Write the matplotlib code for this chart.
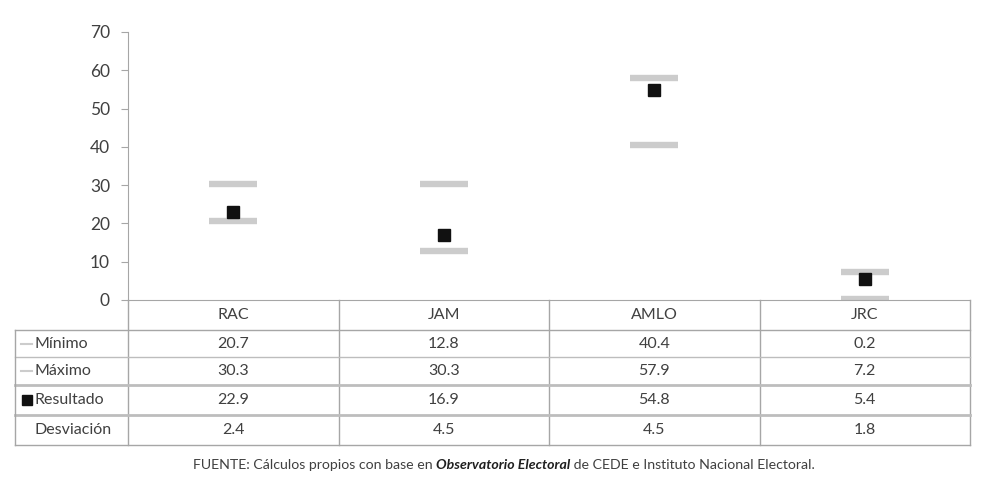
import matplotlib.pyplot as plt
from matplotlib.lines import Line2D
import numpy as np

plt.rcParams['font.family'] = ['Lato', 'DejaVu Sans']

candidatos = ['RAC', 'JAM', 'AMLO', 'JRC']
minimo = [20.7, 12.8, 40.4, 0.2]
maximo = [30.3, 30.3, 57.9, 7.2]
resultado = [22.9, 16.9, 54.8, 5.4]
desviacion = [2.4, 4.5, 4.5, 1.8]
filas = ['Mínimo', 'Máximo', 'Resultado', 'Desviación']

W, H = 983, 482
fig = plt.figure(figsize=(W / 100, H / 100), dpi=100)
fig.patch.set_facecolor('white')

# axes placement in pixels
ax_l, ax_r, ax_t, ax_b = 128, 970, 32, 300
ax = fig.add_axes([ax_l / W, 1 - ax_b / H, (ax_r - ax_l) / W, (ax_b - ax_t) / H])

x = np.arange(len(candidatos))
gris = '#cccccc'
ax.plot(x, minimo, ls='none', marker='_', ms=35, mew=4.6, c=gris)
ax.plot(x, maximo, ls='none', marker='_', ms=35, mew=4.6, c=gris)
ax.plot(x, resultado, ls='none', marker='s', ms=8, c='#111111')

ax.set_xlim(-0.5, len(candidatos) - 0.5)
ax.set_ylim(0, 70)
ax.set_yticks(range(0, 71, 10))
ax.set_xticks([])
for s in ['top', 'right']:
    ax.spines[s].set_visible(False)
for s in ['left', 'bottom']:
    ax.spines[s].set_color('#a6a6a6')
ax.tick_params(axis='y', length=5, color='#a6a6a6', labelsize=12.5,
               labelcolor='#404040', pad=8)


def fx(p):
    return p / W


def fy(p):
    return 1 - p / H


def hline(x0, x1, y, c='#a6a6a6', lw=1.0):
    fig.add_artist(Line2D([fx(x0), fx(x1)], [fy(y), fy(y)], c=c, lw=lw,
                          transform=fig.transFigure))


def vline(xp, y0, y1, c='#a6a6a6', lw=1.0):
    fig.add_artist(Line2D([fx(xp), fx(xp)], [fy(y0), fy(y1)], c=c, lw=lw,
                          transform=fig.transFigure))


# table
tab_l = 15
col_w = (ax_r - ax_l) / len(candidatos)
rows_y = [300, 330, 357, 385, 415, 445]

# header row
for i in range(len(candidatos) + 1):
    vline(ax_l + i * col_w, rows_y[0], rows_y[-1])
for i, c in enumerate(candidatos):
    fig.text(fx(ax_l + (i + 0.5) * col_w), fy((rows_y[0] + rows_y[1]) / 2), c,
             ha='center', va='center', fontsize=11.5, color='#404040')

# body
hline(tab_l, ax_r, rows_y[1])
hline(tab_l, ax_r, rows_y[2], c='#bdbdbd')
hline(tab_l, ax_r, rows_y[3], c='#bdbdbd', lw=2)
hline(tab_l, ax_r, rows_y[4], c='#bdbdbd', lw=2)
hline(tab_l, ax_r, rows_y[5])
vline(tab_l, rows_y[1], rows_y[5])

valores = [minimo, maximo, resultado, desviacion]
for r, (nombre, vals) in enumerate(zip(filas, valores)):
    yc = fy((rows_y[r + 1] + rows_y[r + 2]) / 2)
    fig.text(fx(35), yc, nombre, ha='left', va='center', fontsize=11.5,
             color='#404040')
    for i, v in enumerate(vals):
        fig.text(fx(ax_l + (i + 0.5) * col_w), yc, f'{v:.1f}', ha='center',
                 va='center', fontsize=11.5, color='#404040')

# legend keys in the row labels
for r in (0, 1):
    yk = fy((rows_y[r + 1] + rows_y[r + 2]) / 2)
    fig.add_artist(Line2D([fx(21), fx(32)], [yk, yk], c=gris, lw=1.5,
                          transform=fig.transFigure))
yk = fy((rows_y[3] + rows_y[4]) / 2)
fig.add_artist(Line2D([fx(27)], [yk], marker='s', ms=7, c='#111111',
                      transform=fig.transFigure))

# source note
t1 = fig.text(fx(193), fy(465), 'FUENTE: Cálculos propios con base en ',
              ha='left', va='center', fontsize=10.2, color='#404040')
t2 = ax.annotate('Observatorio Electoral', xy=(1, 0), xycoords=t1,
                 ha='left', va='bottom', fontsize=10.2, color='#202020',
                 fontweight='bold', fontstyle='italic')
ax.annotate(' de CEDE e Instituto Nacional Electoral.', xy=(1, 0),
            xycoords=t2, ha='left', va='bottom', fontsize=10.2, color='#404040')

fig.savefig('out.png', dpi=100)
